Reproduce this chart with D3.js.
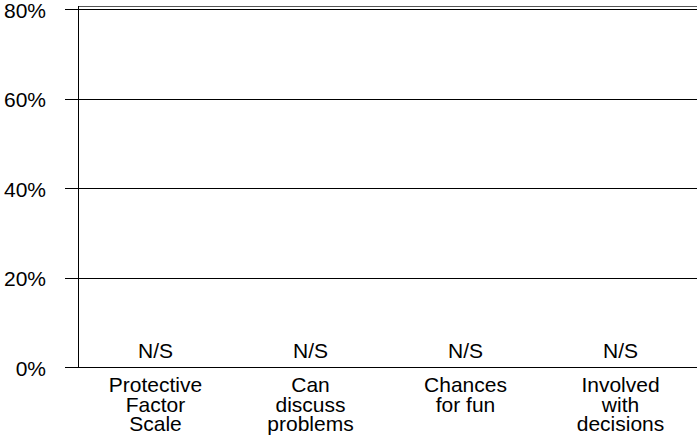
<!DOCTYPE html>
<html><head><meta charset="utf-8">
<script src="https://cdn.jsdelivr.net/npm/d3@7"></script>
<style>body{margin:0;background:#fff}svg{display:block}text{font-family:"Liberation Sans",Arial,sans-serif}</style>
</head><body>
<svg id="c" width="697" height="439"></svg>
<script>
const categories = [["Protective","Factor","Scale"],["Can","discuss","problems"],["Chances","for fun"],["Involved","with","decisions"]];
const values = [null,null,null,null];
const valueLabels = ["N/S","N/S","N/S","N/S"];
const yTicks = [0,20,40,60,80];

(function(){
const svg = d3.select("#c");
const mL = 78, mR = 698, mT = 6, mB = 368;
const x = d3.scaleBand().domain(d3.range(categories.length)).range([mL,mR]);
const y = d3.scaleLinear().domain([0,80.9]).range([mB,mT]);

svg.append("g").selectAll("line").data(yTicks).join("line")
  .attr("x1",65).attr("x2",mR).attr("y1",d=>Math.round(y(d))-0.5).attr("y2",d=>Math.round(y(d))-0.5)
  .attr("stroke","#000").attr("stroke-width",1);
svg.append("line").attr("x1",mL).attr("x2",mR).attr("y1",mT+0.5).attr("y2",mT+0.5).attr("stroke","#555");
svg.append("line").attr("x1",mL+0.5).attr("x2",mL+0.5).attr("y1",mT).attr("y2",mB).attr("stroke","#000");
svg.append("g").selectAll("text").data(yTicks).join("text")
  .attr("x",46).attr("y",d=>y(d)+7.5).attr("text-anchor","end").attr("font-size",21).text(d=>d+"%");
svg.append("g").selectAll("text").data(valueLabels).join("text")
  .attr("x",(d,i)=>x(i)+x.bandwidth()/2).attr("y",y(0)-10).attr("text-anchor","middle").attr("font-size",21).text(d=>d);
const cg = svg.append("g").selectAll("text").data(categories).join("text")
  .attr("text-anchor","middle").attr("font-size",21);
cg.selectAll("tspan").data((d,i)=>d.map(s=>({s,i}))).join("tspan")
  .attr("x",d=>x(d.i)+x.bandwidth()/2).attr("y",(d,j)=>392+j*19.5).text(d=>d.s);
})();
</script>
</body></html>
